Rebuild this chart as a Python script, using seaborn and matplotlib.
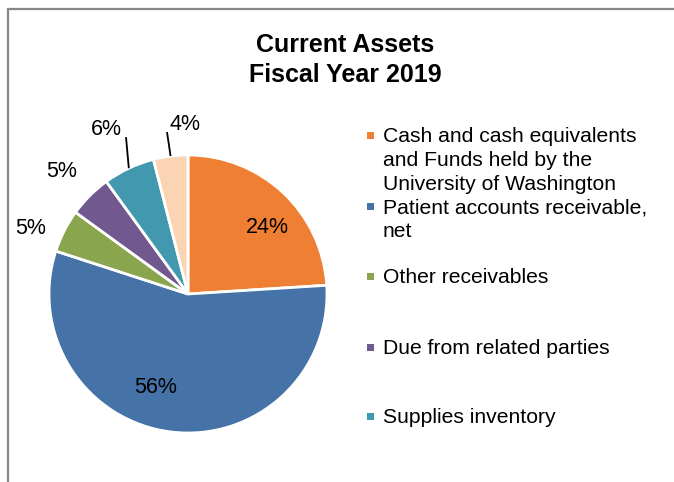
import matplotlib
matplotlib.use("Agg")
import matplotlib.pyplot as plt
import seaborn as sns
import numpy as np

# Current assets breakdown, fiscal year 2019 (percent of total)
categories = [
    "Cash and cash equivalents\nand Funds held by the\nUniversity of Washington",
    "Patient accounts receivable,\nnet",
    "Other receivables",
    "Due from related parties",
    "Supplies inventory",
    "Prepaid expenses and other",
]
shares = [24, 56, 5, 5, 6, 4]
pct_labels = [f"{v}%" for v in shares]
colors = ["#EE7F33", "#4572A7", "#89A54E", "#71588F", "#4198AF", "#FBD4B4"]
title = "Current Assets\nFiscal Year 2019"

sns.set_theme(style="white")
plt.rcParams["font.family"] = ["Liberation Sans", "DejaVu Sans"]

W, H = 674, 482
fig = plt.figure(figsize=(W / 100, H / 100), dpi=100)
fig.patch.set_facecolor("white")

# pie axes: centre (188, 294) px, radius 139 px
cx, cy, r = 188, 294, 139
ax = fig.add_axes([(cx - r) / W, (H - cy - r) / H, 2 * r / W, 2 * r / H])
wedges, _ = ax.pie(
    shares,
    colors=colors,
    startangle=90,
    counterclock=False,
    radius=1.0,
    wedgeprops=dict(edgecolor="white", linewidth=2),
)
ax.set_xlim(-1, 1)
ax.set_ylim(-1, 1)
ax.set_axis_off()

# label placement (in units of the pie radius)
label_pos = [(0.568, 0.475), (-0.230, -0.676), (-1.129, 0.468),
             (-0.906, 0.878), (-0.590, 1.180), (-0.022, 1.223)]
leader_from = {4: (-0.446, 1.129), 5: (-0.151, 1.165)}

for i, (w, txt) in enumerate(zip(wedges, pct_labels)):
    x, y = label_pos[i]
    ax.text(x, y, txt, ha="center", va="center", fontsize=15.5,
            color="black", clip_on=False)
    if i in leader_from:
        mid = np.deg2rad((w.theta1 + w.theta2) / 2)
        x0, y0 = leader_from[i]
        ax.plot([x0, np.cos(mid)], [y0, np.sin(mid)], color="black",
                lw=1.3, clip_on=False, solid_capstyle="butt")

# title
fig.text(345 / W, 1 - 60 / H, title, ha="center", va="center",
         fontsize=18, fontweight="bold", color="black", linespacing=1.28)

# legend entries (first-line centres in px)
legend_y = [135, 206, 276, 347, 416]
for i, yc in enumerate(legend_y):
    fig.patches.append(plt.Rectangle((367 / W, 1 - (yc + 4) / H), 7 / W, 7 / H,
                                     transform=fig.transFigure,
                                     facecolor=colors[i], edgecolor="none"))
    fig.text(383 / W, 1 - (yc - 8) / H, categories[i], ha="left",
             va="top", fontsize=15.2, color="black", linespacing=1.32)

# chart frame (top and left edges)
frame_col = "#878787"
fig.add_artist(plt.Line2D([8 / W, 8 / W], [0, 1 - 9 / H], color=frame_col,
                          lw=1.6, transform=fig.transFigure))
fig.add_artist(plt.Line2D([8 / W, 1], [1 - 9 / H, 1 - 9 / H], color=frame_col,
                          lw=1.6, transform=fig.transFigure))

fig.savefig("out.png", dpi=100, facecolor="white")
